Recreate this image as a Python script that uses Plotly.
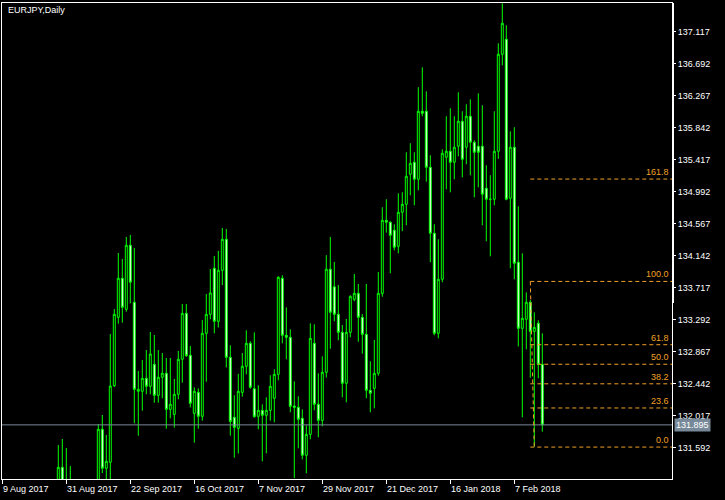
import plotly.graph_objects as go

# ---- data (daily EURJPY, bar index 0 = 9 Aug 2017) ----
bar_index = list(range(136))
open_ = [130.30,129.40,128.95,128.85,129.60,129.80,129.10,128.80,128.70,128.90,
         128.75,128.95,129.30,129.85,130.50,131.331,131.00,130.90,130.45,129.80,
         129.95,130.40,130.85,130.55,130.95,131.836,131.318,131.398,132.415,133.323,
         133.842,133.430,134.280,133.523,132.341,132.341,132.513,132.407,132.699,132.287,
         132.527,132.580,132.101,132.035,132.301,132.766,133.376,132.819,132.048,132.327,
         132.009,133.111,133.363,133.975,133.270,133.948,134.360,132.792,131.995,131.849,
         132.327,132.673,132.978,132.375,132.009,132.088,132.022,132.088,132.248,132.566,
         133.842,133.084,133.058,132.145,132.128,131.982,131.491,131.769,132.978,132.168,
         131.955,132.593,133.962,133.729,133.363,133.124,132.447,133.124,133.562,133.642,
         133.323,133.097,132.354,132.380,132.580,133.642,134.612,134.586,134.480,134.267,
         134.719,134.825,135.223,135.383,135.157,136.060,136.060,135.316,134.440,133.111,
         133.829,135.449,135.529,135.383,135.595,135.927,135.582,135.994,135.648,135.595,
         135.595,135.037,134.891,134.891,135.529,136.817,137.016,134.905,135.582,134.055,
         133.177,133.297,133.523,133.137,133.244,132.699]
high = [130.60,129.70,129.35,129.75,130.10,129.95,129.30,129.20,129.10,129.30,
        129.10,129.50,130.00,130.70,131.627,131.707,131.588,131.349,130.80,130.10,
        130.60,131.00,131.05,131.10,131.906,132.026,131.760,133.101,133.433,134.178,
        134.098,134.391,134.417,134.245,132.610,132.756,132.889,133.128,133.088,132.889,
        132.849,132.783,132.783,132.504,132.876,133.500,133.500,132.942,132.394,132.380,
        133.287,133.633,133.966,134.138,134.205,134.510,134.497,132.952,132.289,132.573,
        132.849,133.151,133.005,133.124,132.420,132.168,132.261,132.553,132.633,133.869,
        133.882,133.456,133.164,132.473,132.274,132.101,131.889,133.244,133.230,132.580,
        132.805,134.148,134.391,134.059,133.753,133.221,133.301,133.615,133.899,133.766,
        133.367,133.766,132.739,133.022,133.926,134.785,134.891,134.599,134.559,134.971,
        134.984,135.515,135.635,135.515,136.379,136.644,136.325,135.476,134.559,134.360,
        135.555,135.994,136.100,135.994,136.312,136.060,136.153,136.219,135.675,136.299,
        136.140,135.343,135.210,136.060,136.963,137.494,137.202,135.794,135.847,134.798,
        134.174,133.655,133.553,133.390,133.284,133.111]
low = [128.95,128.60,128.55,128.70,129.30,128.90,128.60,128.40,128.35,128.55,
       128.40,128.80,129.10,129.40,130.20,130.85,130.60,130.20,129.60,129.40,
       129.80,130.20,130.30,130.40,130.80,131.255,131.05,131.10,132.398,133.238,
       133.252,133.398,133.509,131.916,131.751,132.083,132.301,132.301,132.189,132.189,
       132.248,131.844,131.982,131.857,132.234,132.455,132.800,132.128,131.658,131.844,
       131.950,132.468,133.297,133.111,133.188,133.753,132.659,131.751,131.459,131.514,
       132.269,132.566,132.375,131.990,131.836,131.411,131.517,131.950,131.929,132.487,
       132.978,132.766,132.062,131.189,131.584,131.437,131.252,131.703,132.088,131.730,
       131.876,132.524,132.906,133.270,133.018,132.261,132.194,133.058,133.536,132.999,
       132.840,132.248,132.062,132.115,132.548,133.597,134.448,133.909,134.214,134.174,
       134.467,134.546,134.944,134.812,135.011,135.994,135.125,134.055,133.084,133.044,
       133.789,135.024,134.984,135.157,135.462,135.183,135.356,135.210,134.918,135.051,
       134.546,134.334,134.134,134.812,135.428,136.671,134.878,133.975,133.829,132.936,
       131.995,132.898,132.521,131.605,132.513,131.804]
close = [129.40,128.95,128.85,129.60,129.80,129.10,128.80,128.70,128.90,128.75,
         128.95,129.30,129.85,130.50,131.331,131.00,130.90,130.45,129.80,129.95,
         130.40,130.85,130.55,130.95,131.836,131.318,131.411,132.411,133.363,133.842,
         133.456,134.280,133.789,132.367,132.367,132.513,132.407,132.836,132.287,132.527,
         132.580,132.101,132.168,132.301,132.766,133.376,132.813,132.181,132.341,132.009,
         133.111,133.363,133.647,133.270,133.948,134.360,132.792,131.939,131.862,132.341,
         132.673,132.978,132.394,132.003,132.088,132.022,132.088,132.407,132.566,133.855,
         133.084,133.058,132.141,132.128,131.969,131.491,131.769,133.044,132.168,131.955,
         132.593,133.962,133.390,133.363,133.124,132.447,133.124,133.602,133.642,133.323,
         133.097,132.354,132.314,132.580,133.642,134.612,134.586,134.413,134.254,134.719,
         134.825,135.197,135.369,135.157,136.060,136.033,135.316,134.440,133.111,133.829,
         135.502,135.529,135.383,135.582,135.927,135.422,135.994,135.648,135.515,135.515,
         134.958,134.891,134.891,135.529,136.817,137.229,134.891,135.582,134.041,133.177,
         133.310,133.523,133.137,133.190,132.699,131.895]

date_pos = [0, 16, 32, 48, 64, 80, 96, 112, 128]
date_labels = ["9 Aug 2017", "31 Aug 2017", "22 Sep 2017", "16 Oct 2017", "7 Nov 2017",
               "29 Nov 2017", "21 Dec 2017", "16 Jan 2018", "7 Feb 2018"]
price_ticks = [131.592, 132.017, 132.442, 132.867, 133.292, 133.717, 134.142,
               134.567, 134.992, 135.417, 135.842, 136.267, 136.692, 137.117]

last_price = 131.895
fib_high = 133.80
fib_low = 131.60
fib_start, fib_end = 132, 133
fib_levels = [0.0, 23.6, 38.2, 50.0, 61.8, 100.0, 161.8]
scale_marker_low = 133.514   # lower end of the thick part of the price scale line

# ---- style ----
GREEN = "#00FF00"
ORANGE = "#F0A028"
GREY = "#778899"
FONT = "Liberation Sans"
X_RANGE = [-0.075, 167.425]
Y_RANGE = [131.176, 137.498]

fig = go.Figure()
fig.add_trace(go.Candlestick(
    x=bar_index, open=open_, high=high, low=low, close=close,
    increasing=dict(line=dict(color=GREEN, width=1), fillcolor="#000000"),
    decreasing=dict(line=dict(color=GREEN, width=1), fillcolor="#FFFFFF"),
    whiskerwidth=0, hoverinfo="skip", showlegend=False))

shapes = []
annotations = []

# current price line
shapes.append(dict(type="line", xref="paper", x0=0, x1=1, yref="y",
                   y0=last_price, y1=last_price, line=dict(color=GREY, width=1),
                   layer="above"))
annotations.append(dict(xref="paper", x=1, xanchor="left", xshift=2,
                        yref="y", y=last_price, yanchor="middle",
                        text=f"{last_price:.3f}", showarrow=False,
                        bgcolor=GREY, borderpad=1,
                        font=dict(color="#FFFFFF", size=9, family=FONT)))

# thick upper part of the price-scale line
shapes.append(dict(type="rect", xref="paper", x0=1.0, x1=1.0 + 2.0 / 670, yref="y",
                   y0=scale_marker_low, y1=Y_RANGE[1], fillcolor="#FFFFFF",
                   line=dict(width=0), layer="above"))

# Fibonacci retracement
shapes.append(dict(type="line", xref="x", yref="y", x0=fib_start, x1=fib_end,
                   y0=fib_high, y1=fib_low,
                   line=dict(color=ORANGE, width=1, dash="4px,3px"), layer="above"))
for lv in fib_levels:
    p = fib_low + (fib_high - fib_low) * lv / 100.0
    shapes.append(dict(type="line", xref="x", yref="y", x0=fib_start, x1=X_RANGE[1],
                       y0=p, y1=p, line=dict(color=ORANGE, width=1, dash="4px,3px"),
                       layer="above"))
    annotations.append(dict(xref="paper", x=0.9985, xanchor="right", yref="y", y=p,
                            yanchor="bottom", yshift=0, text=f"{lv:.1f}",
                            showarrow=False, font=dict(color=ORANGE, size=9, family=FONT)))

# date labels
for pos, lab in zip(date_pos, date_labels):
    annotations.append(dict(xref="x", x=pos, xanchor="left", xshift=-1,
                            yref="paper", y=-0.0215, yanchor="middle",
                            text=lab, showarrow=False,
                            font=dict(color="#FFFFFF", size=9, family=FONT)))

# title
annotations.append(dict(xref="paper", x=0.006, xanchor="left", yref="paper", y=0.985,
                        yanchor="middle", text="EURJPY,Daily", showarrow=False,
                        font=dict(color="#FFFFFF", size=9, family=FONT)))

fig.update_layout(
    width=725, height=500,
    margin=dict(l=2, r=53, t=3, b=21),
    paper_bgcolor="#000000", plot_bgcolor="#000000",
    shapes=shapes, annotations=annotations,
    font=dict(family=FONT, size=9, color="#FFFFFF"),
    xaxis=dict(range=X_RANGE, rangeslider=dict(visible=False), showgrid=False,
               zeroline=False, showline=True, linecolor="#FFFFFF", linewidth=1,
               mirror=True, ticks="outside", ticklen=4, tickcolor="#FFFFFF",
               tickvals=date_pos, showticklabels=False, fixedrange=True),
    yaxis=dict(range=Y_RANGE, side="right", showgrid=False, zeroline=False,
               showline=True, linecolor="#FFFFFF", linewidth=1, mirror=True,
               ticks="outside", ticklen=3, tickcolor="#FFFFFF",
               tickvals=price_ticks, ticktext=[f"{v:.3f}" for v in price_ticks],
               tickfont=dict(color="#FFFFFF", size=9, family=FONT), fixedrange=True),
)

fig.write_html("out.html", config={"displayModeBar": False},
               post_script="document.body.style.margin='0px';document.body.style.background='#000000';")
